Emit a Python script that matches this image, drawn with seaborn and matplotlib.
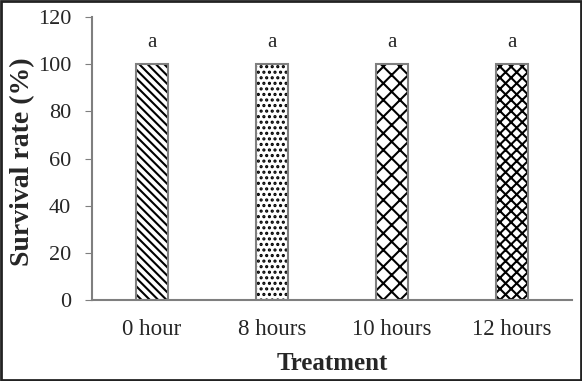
import pandas as pd
import matplotlib.pyplot as plt
import matplotlib.patches as mpatches
import seaborn as sns

# data
treatments = ['0 hour', '8 hours', '10 hours', '12 hours']
survival = [100, 100, 100, 100]
letters = ['a', 'a', 'a', 'a']
hatches = ['\\\\\\\\', '...', '//\\\\', 'xxx']

df = pd.DataFrame({'Treatment': treatments, 'Survival': survival})

sns.set_style('white')
plt.rcParams['font.family'] = ['Liberation Serif', 'DejaVu Serif']
plt.rcParams['hatch.linewidth'] = 1.5

fig = plt.figure(figsize=(5.82, 3.81), dpi=100)
ax = fig.add_axes([92 / 582, 1 - 300 / 381, 480 / 582, 283 / 381])

# hatched fill in black, then gray outline on top
sns.barplot(data=df, x='Treatment', y='Survival', color='white', width=0.26,
            edgecolor='black', linewidth=0, ax=ax)
for bar, h in zip(ax.patches, hatches):
    bar.set_hatch(h)
    bar.set_facecolor('white')
    bar.set_edgecolor('black')
    bar.set_linewidth(0)
    ax.add_patch(mpatches.Rectangle(bar.get_xy(), bar.get_width(), bar.get_height(),
                                    fill=False, edgecolor='#7f7f7f', linewidth=1.5, zorder=3))

for i, (v, lab) in enumerate(zip(survival, letters)):
    ax.text(i, v + 5, lab, ha='center', va='bottom', fontsize=15)

ax.set_ylim(0, 120)
ax.set_yticks(range(0, 121, 20))
ax.set_xlim(-0.5, 3.5)
ax.tick_params(axis='y', labelsize=16, length=5, color='#7f7f7f', direction='out', left=True, pad=10)
ax.tick_params(axis='x', labelsize=16.5, length=0, pad=14)
ax.set_xlabel('Treatment', fontsize=18, fontweight='bold')
ax.set_ylabel('Survival rate (%)', fontsize=20, fontweight='bold')
ax.xaxis.set_label_coords(0.5, -0.183)
ax.yaxis.set_label_coords(-0.118, 0.49)

sns.despine(ax=ax, top=True, right=True)
for s in ['left', 'bottom']:
    ax.spines[s].set_color('#7f7f7f')
    ax.spines[s].set_linewidth(1.5)

# dark frame around the whole picture
fig.patches.append(mpatches.Rectangle((0.002, 0.003), 0.996, 0.994, transform=fig.transFigure,
                                      fill=False, edgecolor='#222222', linewidth=2))

plt.savefig('out.png', dpi=100)
plt.close()
